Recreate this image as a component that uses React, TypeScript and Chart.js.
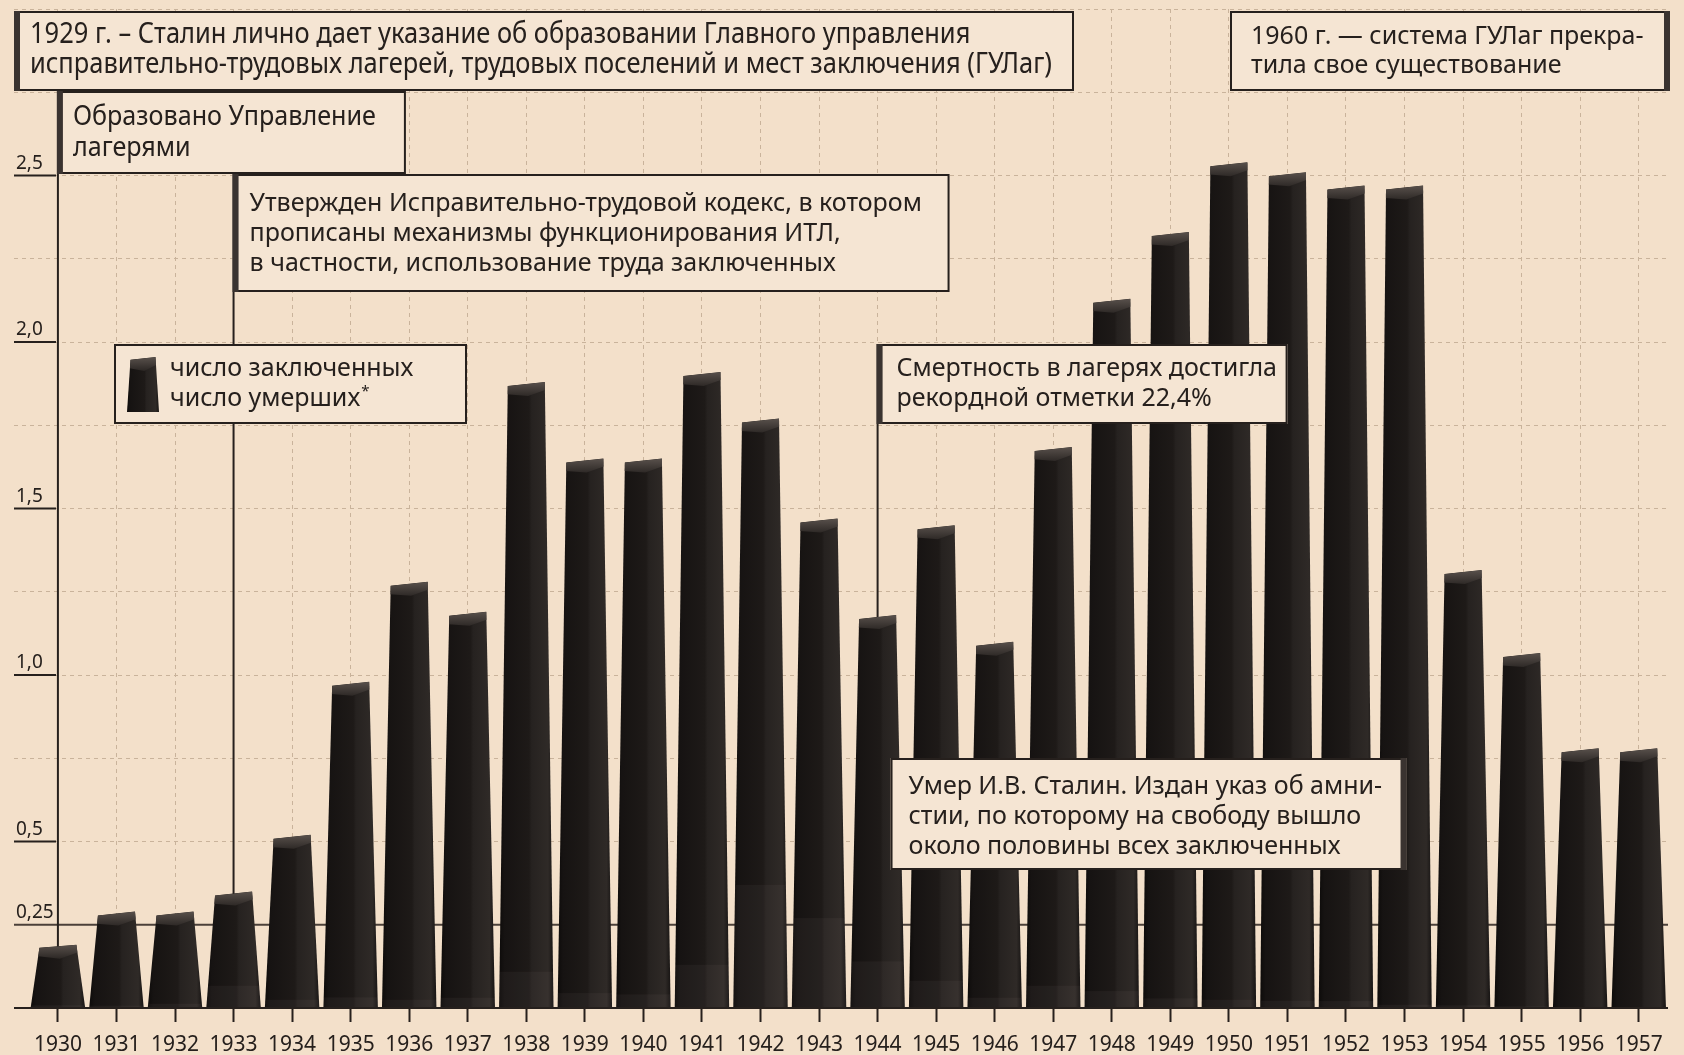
import React, { useEffect, useRef } from "react";
import { Chart, registerables } from "chart.js";

Chart.register(...registerables);

// ---------- data ----------
const YEARS = [
  1930, 1931, 1932, 1933, 1934, 1935, 1936, 1937, 1938, 1939, 1940, 1941, 1942, 1943,
  1944, 1945, 1946, 1947, 1948, 1949, 1950, 1951, 1952, 1953, 1954, 1955, 1956, 1957,
];
// number of prisoners, millions
const PRISONERS = [
  0.19, 0.29, 0.29, 0.35, 0.52, 0.98, 1.28, 1.19, 1.88, 1.65, 1.65, 1.91, 1.77, 1.47,
  1.18, 1.45, 1.1, 1.685, 2.13, 2.33, 2.54, 2.51, 2.47, 2.47, 1.315, 1.066, 0.78, 0.78,
];
// number of deaths, millions (shown as the lower band of each pillar)
const DEATHS = [
  0.008, 0.007, 0.013, 0.067, 0.025, 0.032, 0.025, 0.031, 0.109, 0.045, 0.041, 0.13, 0.37, 0.27,
  0.14, 0.082, 0.031, 0.067, 0.051, 0.029, 0.025, 0.022, 0.021, 0.01, 0.008, 0.005, 0.003, 0.003,
];
const SERIES_NAMES = ["число заключенных", "число умерших*"];
const Y_TICK_VALUES = [0.25, 0.5, 1, 1.5, 2, 2.5];
const Y_TICK_LABELS = ["0,25", "0,5", "1,0", "1,5", "2,0", "2,5"];
const X_MIN = 1929.25;
const X_MAX = 1957.5;
const Y_MAX = 3;

const NOTE_1929 = [
  "1929 г. – Сталин лично дает указание об образовании Главного управления",
  "исправительно-трудовых лагерей, трудовых поселений и мест заключения (ГУЛаг)",
];
const NOTE_1930 = ["Образовано Управление", "лагерями"];
const NOTE_1933 = [
  "Утвержден Исправительно-трудовой кодекс, в котором",
  "прописаны механизмы функционирования ИТЛ,",
  "в частности, использование труда заключенных",
];
const NOTE_1944 = ["Смертность в лагерях достигла", "рекордной отметки 22,4%"];
const NOTE_1953 = [
  "Умер И.В. Сталин. Издан указ об амни-",
  "стии, по которому на свободу вышло",
  "около половины всех заключенных",
];
const NOTE_1960 = ["1960 г. — система ГУЛаг прекра-", "тила свое существование"];

// ---------- style ----------
const W = 1684;
const H = 1055;
const BG = "#f3e0ca";
const BOX_FILL = "#f5e5d3";
const INK = "#26201d";
const STRIPE = "#3a3330";
const GRID = "#c9b39b";
const SANS = '"Noto Sans", "Open Sans", sans-serif';

type Box = {
  lines: string[];
  size: number;
  fitW?: number; // condensed text: widest line squeezed to this width
  anchor?: number;
  side?: "left" | "right";
  x?: number;
  y: number;
  w: number;
  h: number;
  stripe: "left" | "right" | null;
  tx: number;
  ty: number;
  lh: number;
  link?: boolean;
};

const BOXES: Box[] = [
  { lines: NOTE_1929, size: 29, fitW: 1022, x: 14, y: 11, w: 1060, h: 80, stripe: "left", tx: 16, ty: 24, lh: 30 },
  { lines: NOTE_1930, size: 28, fitW: 303, anchor: 1930, side: "left", y: 91, w: 349, h: 83, stripe: "left", tx: 16, ty: 26, lh: 31, link: true },
  { lines: NOTE_1933, size: 25, anchor: 1933, side: "left", y: 174, w: 717, h: 118, stripe: "left", tx: 17, ty: 30, lh: 30, link: true },
  { lines: NOTE_1944, size: 25, anchor: 1944, side: "left", y: 344, w: 411, h: 80, stripe: "left", tx: 20, ty: 25, lh: 30, link: true },
  { lines: NOTE_1953, size: 25, anchor: 1953, side: "right", y: 758, w: 516, h: 112, stripe: "right", tx: 18, ty: 29, lh: 30 },
  { lines: NOTE_1960, size: 25, x: 1230, y: 11, w: 440, h: 80, stripe: "right", tx: 21, ty: 26, lh: 29 },
];
const LEGEND_BOX = { x: 114, y: 344, w: 353, h: 80, iconX: 143, iconTop: 357, iconBottom: 412, tx: 170, ty: 25, lh: 30 };

function drawPillar(
  ctx: CanvasRenderingContext2D,
  cx: number,
  top: number,
  base: number,
  wb: number,
  wt: number,
  deathTop: number | null
) {
  const h = base - top;
  const lb = cx - wb / 2;
  const rb = cx + wb / 2;
  const lt = cx - wt / 2;
  const rt = cx + wt / 2;
  const tilt = Math.min(4, h * 0.05);
  ctx.save();
  ctx.beginPath();
  ctx.moveTo(lb, base);
  ctx.lineTo(lt, top + tilt);
  ctx.lineTo(rt, top);
  ctx.lineTo(rb, base);
  ctx.closePath();
  const g = ctx.createLinearGradient(lb, 0, rb, 0);
  g.addColorStop(0, "#0d0b0a");
  g.addColorStop(0.1, "#161312");
  g.addColorStop(0.55, "#1e1a18");
  g.addColorStop(0.6, "#262220");
  g.addColorStop(0.9, "#2f2a27");
  g.addColorStop(1, "#171413");
  ctx.fillStyle = g;
  ctx.fill();
  ctx.clip();
  if (deathTop != null && deathTop < base) {
    ctx.fillStyle = "rgba(255,240,225,0.04)";
    ctx.fillRect(lb - 1, deathTop, wb + 2, base - deathTop);
  }
  const cap = Math.min(14, h * 0.3);
  ctx.beginPath();
  ctx.moveTo(lt - 1, top + tilt);
  ctx.lineTo(rt + 1, top);
  ctx.lineTo(rt + 1, top + cap * 0.55);
  ctx.lineTo(cx + wt * 0.05, top + cap);
  ctx.lineTo(lt - 1, top + tilt + cap * 0.6);
  ctx.closePath();
  const cg = ctx.createLinearGradient(0, top, 0, top + cap + tilt);
  cg.addColorStop(0, "#59514c");
  cg.addColorStop(1, "#221e1c");
  ctx.fillStyle = cg;
  ctx.fill();
  ctx.restore();
}

function hLine(ctx: CanvasRenderingContext2D, x1: number, x2: number, y: number) {
  ctx.beginPath();
  ctx.moveTo(x1, y);
  ctx.lineTo(x2, y);
  ctx.stroke();
}

function boxLeft(chart: any, b: Box) {
  if (b.anchor != null) {
    const px = chart.scales.x.getPixelForValue(b.anchor);
    return b.side === "right" ? px + 2 - b.w : px - 1;
  }
  return b.x as number;
}

function drawBox(ctx: CanvasRenderingContext2D, x: number, y: number, w: number, h: number, stripe: "left" | "right" | null) {
  ctx.fillStyle = BOX_FILL;
  ctx.fillRect(x, y, w, h);
  ctx.strokeStyle = INK;
  ctx.lineWidth = 2;
  ctx.strokeRect(x + 1, y + 1, w - 2, h - 2);
  ctx.fillStyle = STRIPE;
  if (stripe === "left") ctx.fillRect(x, y, 6, h);
  if (stripe === "right") ctx.fillRect(x + w - 6, y, 6, h);
}

const gulagPlugin = {
  id: "gulag",
  beforeDraw(chart: any) {
    const { ctx } = chart;
    ctx.save();
    ctx.fillStyle = BG;
    ctx.fillRect(0, 0, chart.width, chart.height);
    ctx.restore();
  },
  beforeDatasetsDraw(chart: any) {
    const { ctx, chartArea, scales } = chart;
    const xs = scales.x;
    const ys = scales.y;
    ctx.save();
    ctx.strokeStyle = "#4b4039";
    ctx.lineWidth = 2;
    hLine(ctx, chartArea.left, chartArea.right, ys.getPixelForValue(0.25));
    ctx.strokeStyle = INK;
    Y_TICK_VALUES.forEach((v) => {
      if (v !== 0.25) hLine(ctx, chartArea.left, chartArea.left + 42, ys.getPixelForValue(v));
    });
    ctx.strokeStyle = INK;
    ctx.lineWidth = 2;
    BOXES.forEach((b) => {
      if (!b.link || b.anchor == null) return;
      const idx = YEARS.indexOf(b.anchor);
      const x = xs.getPixelForValue(b.anchor);
      ctx.beginPath();
      ctx.moveTo(x, b.y + b.h);
      ctx.lineTo(x, ys.getPixelForValue(PRISONERS[idx]) + 4);
      ctx.stroke();
    });
    ctx.restore();
  },
  beforeDatasetDraw() {
    return false;
  },
  afterDatasetsDraw(chart: any) {
    const { ctx, chartArea, scales } = chart;
    const ys = scales.y;
    const m0 = chart.getDatasetMeta(0);
    const m1 = chart.getDatasetMeta(1);
    ctx.save();
    m0.data.forEach((el: any, i: number) => {
      const p = el.getProps(["x", "y", "base", "width"], true);
      const d = m1.data[i] ? m1.data[i].getProps(["y"], true).y : null;
      drawPillar(ctx, p.x, p.y, p.base, p.width, p.width * 0.68, d);
    });
    ctx.strokeStyle = INK;
    ctx.lineWidth = 2;
    hLine(ctx, chartArea.left, chartArea.right, ys.getPixelForValue(0));
    ctx.fillStyle = INK;
    ctx.font = `19px ${SANS}`;
    ctx.textBaseline = "middle";
    ctx.textAlign = "left";
    Y_TICK_VALUES.forEach((v, i) => {
      ctx.fillText(Y_TICK_LABELS[i], chartArea.left + 2, ys.getPixelForValue(v) - 12);
    });
    BOXES.forEach((b) => {
      const x = boxLeft(chart, b);
      drawBox(ctx, x, b.y, b.w, b.h, b.stripe);
      ctx.fillStyle = INK;
      ctx.font = `${b.size}px ${SANS}`;
      ctx.textBaseline = "middle";
      let sx = 1;
      if (b.fitW) {
        const widest = Math.max(...b.lines.map((t) => ctx.measureText(t).width));
        sx = b.fitW / widest;
      }
      b.lines.forEach((t, i) => {
        ctx.save();
        ctx.translate(x + b.tx, b.y + b.ty + i * b.lh);
        ctx.scale(sx, 1);
        ctx.fillText(t, 0, 0);
        ctx.restore();
      });
    });
    const L = LEGEND_BOX;
    drawBox(ctx, L.x, L.y, L.w, L.h, null);
    drawPillar(ctx, L.iconX, L.iconTop, L.iconBottom, 32, 25, null);
    ctx.fillStyle = INK;
    ctx.textBaseline = "middle";
    SERIES_NAMES.forEach((name, i) => {
      const y = L.y + L.ty + i * L.lh;
      const star = name.endsWith("*");
      const txt = star ? name.slice(0, -1) : name;
      ctx.font = `25px ${SANS}`;
      ctx.fillText(txt, L.tx, y);
      if (star) {
        const w = ctx.measureText(txt).width;
        ctx.font = `15px ${SANS}`;
        ctx.fillText("*", L.tx + w + 1, y - 7);
      }
    });
    ctx.restore();
  },
};

export default function App() {
  const ref = useRef<HTMLCanvasElement | null>(null);
  useEffect(() => {
    document.body.style.margin = "0";
    document.body.style.background = BG;
    const canvas = ref.current;
    if (!canvas) return;
    const chart = new Chart(canvas, {
      type: "bar",
      data: {
        datasets: [
          {
            label: SERIES_NAMES[0],
            data: YEARS.map((y, i) => ({ x: y, y: PRISONERS[i] })),
            backgroundColor: "#1f1b19",
            grouped: false,
            categoryPercentage: 0.93,
            barPercentage: 1,
          } as any,
          {
            label: SERIES_NAMES[1],
            data: YEARS.map((y, i) => ({ x: y, y: DEATHS[i] })),
            backgroundColor: "#141110",
            grouped: false,
            categoryPercentage: 0.93,
            barPercentage: 1,
          } as any,
        ],
      },
      options: {
        responsive: false,
        animation: false,
        devicePixelRatio: 1,
        layout: { padding: { top: 9, right: 16, left: 0, bottom: 0 } },
        plugins: { legend: { display: false }, tooltip: { enabled: false } },
        scales: {
          x: {
            type: "linear",
            min: X_MIN,
            max: X_MAX,
            offset: false,
            afterBuildTicks: (s: any) => {
              s.ticks = YEARS.map((v) => ({ value: v }));
            },
            afterFit: (s: any) => {
              s.height = 47;
            },
            ticks: {
              autoSkip: false,
              maxRotation: 0,
              padding: 10,
              color: INK,
              font: { family: SANS, size: 21 },
              callback: (v: any) => String(v),
            },
            grid: {
              offset: false,
              color: GRID,
              lineWidth: 1,
              tickLength: 14,
              tickColor: INK,
              tickWidth: 2,
            },
            border: { display: false, dash: [4, 4] },
          },
          y: {
            min: 0,
            max: Y_MAX,
            ticks: { display: false, stepSize: 0.25 },
            afterFit: (s: any) => {
              s.width = 14;
            },
            grid: {
              drawTicks: false,
              lineWidth: 1,
              color: (c: any) =>
                c.tick && (c.tick.value === 0 || c.tick.value === 0.25) ? "rgba(0,0,0,0)" : GRID,
            },
            border: { display: false, dash: [4, 4] },
          },
        },
      } as any,
      plugins: [gulagPlugin as any],
    });
    return () => chart.destroy();
  }, []);
  return (
    <div style={{ width: W, height: H, background: BG }}>
      <canvas ref={ref} width={W} height={H} style={{ display: "block", width: W, height: H }} />
    </div>
  );
}
